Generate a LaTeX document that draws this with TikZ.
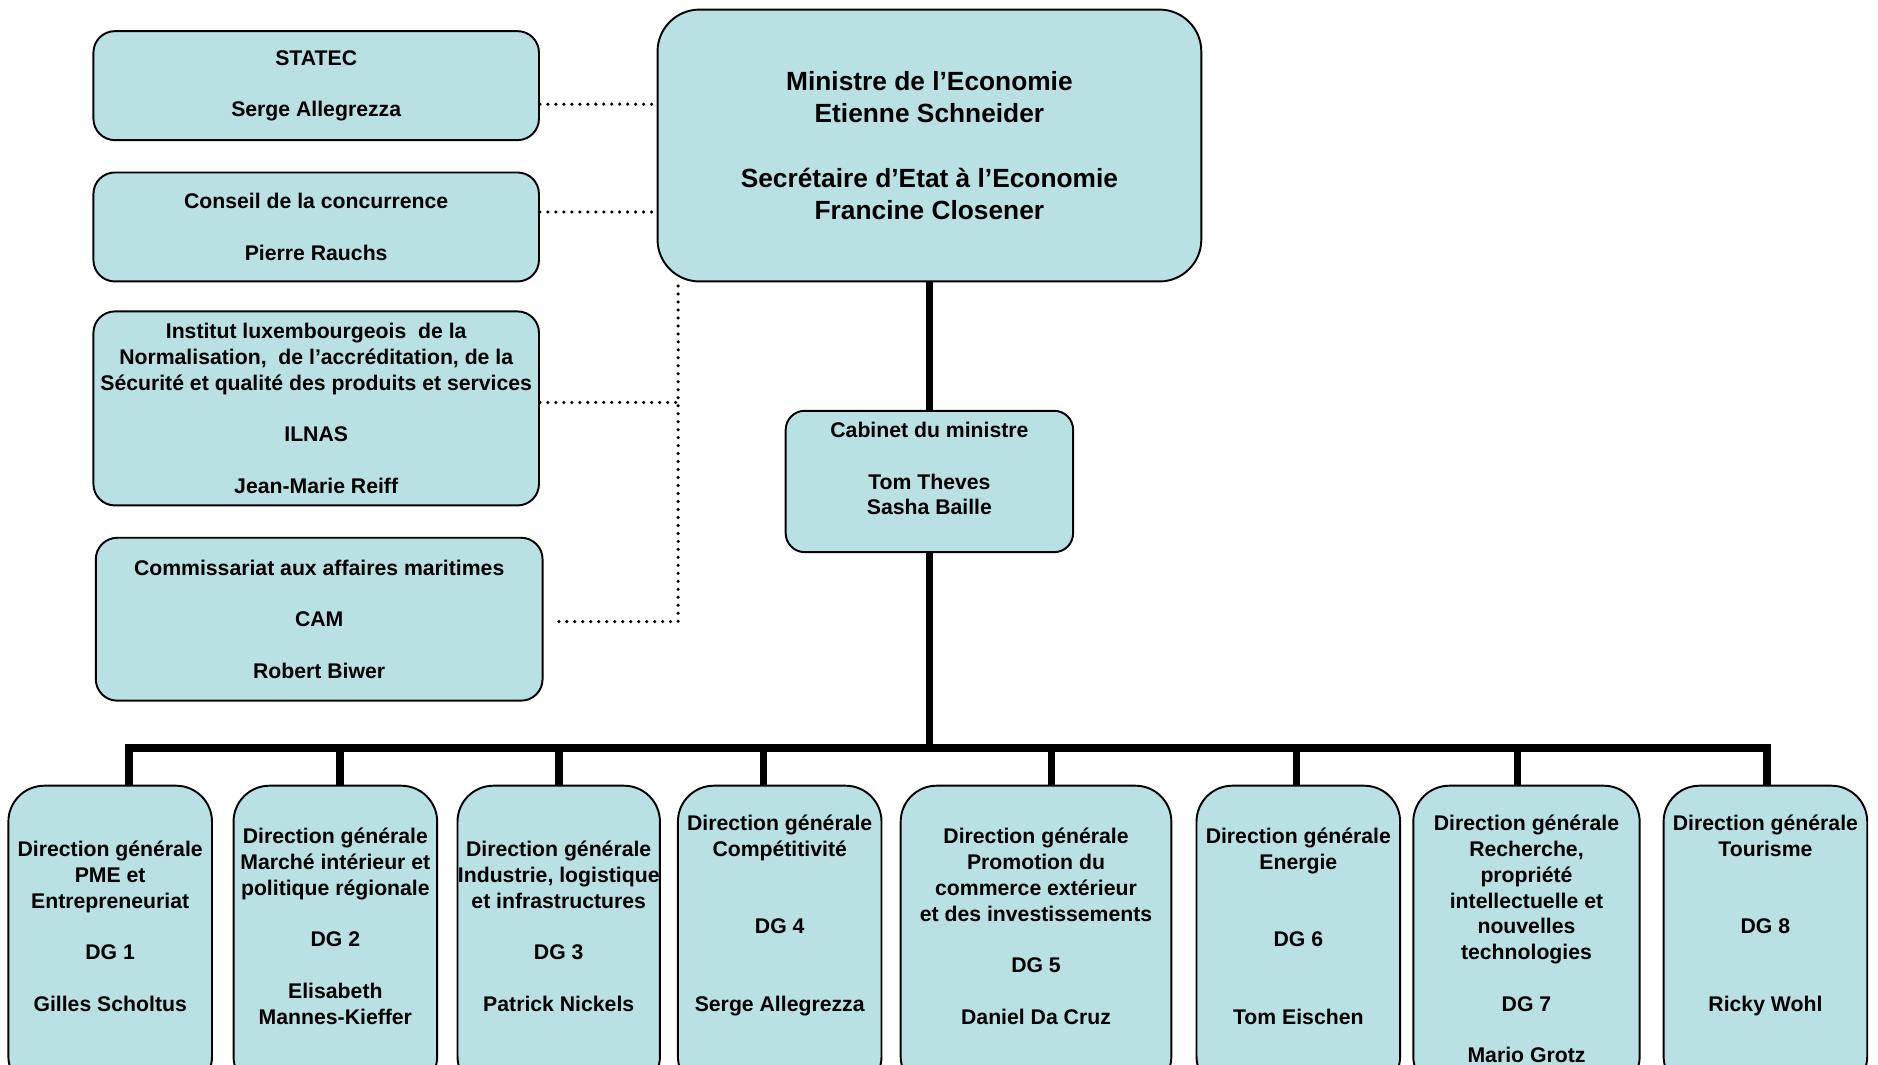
\documentclass[tikz,border=0pt]{standalone}
\usepackage{fontspec}
\setmainfont{Liberation Sans}
\usepackage{tikz}
\usetikzlibrary{positioning,calc,backgrounds}

\definecolor{boxblue}{RGB}{185,224,227}
\newcommand{\px}{0.024cm}
\newcommand{\boxfont}{\bfseries\fontsize{12.1}{14.7}\selectfont}
\newcommand{\bossfont}{\bfseries\fontsize{15}{18.4}\selectfont}

\tikzset{
  orgbox/.style={draw=black, line width=1.1pt, fill=boxblue, align=center, inner sep=0pt, font=\boxfont},
  sidebox/.style={orgbox, rounded corners=0.43cm, minimum width=372*\px},
  dgbox/.style={orgbox, rounded corners=0.72cm, minimum height=256*\px},
  link/.style={line width=2pt, dash pattern=on 0pt off 4.55pt, line cap=round},
  trunk/.style={line width=4.4pt, line cap=rect},
}

\begin{document}
\begin{tikzpicture}[x=\px, y=-\px]
    \useasboundingbox (0,0) rectangle (1568,889);
    \clip (0,0) rectangle (1568,889);

    % Minister and cabinet
    \node[orgbox, rounded corners=0.84cm, minimum width=454*\px, minimum height=227*\px, font=\bossfont] (ministre) at (776,121.5)
        {Ministre de l’Economie\\Etienne Schneider\\ \\Secrétaire d’Etat à l’Economie\\Francine Closener};
    \node[orgbox, rounded corners=0.38cm, minimum width=240*\px, minimum height=118*\px] (cabinet) at (776,402)
        {Cabinet du ministre\\ \\Tom Theves\\Sasha Baille\\ \mbox{}};

    % Attached bodies (left)
    \node[sidebox, minimum height=91*\px] (statec) at (264,71.5) {STATEC\\ \\Serge Allegrezza};
    \node[sidebox, minimum height=91*\px] (conseil) at (264,189.5) {Conseil de la concurrence\\ \\Pierre Rauchs};
    \node[sidebox, minimum height=162*\px] (ilnas) at (264,341)
        {Institut luxembourgeois\ \ de la\\Normalisation,\ \ de l’accréditation, de la\\Sécurité et qualité des produits et services\\ \\ILNAS\\ \\Jean-Marie Reiff};
    \node[sidebox, minimum width=373*\px, minimum height=136*\px] (cam) at (266.5,517)
        {Commissariat aux affaires maritimes\\ \\CAM\\ \\Robert Biwer};

    % Directions generales
    \node[dgbox, minimum width=170*\px] (dg1) at (92,784)
        {Direction générale\\PME et\\Entrepreneuriat\\ \\DG 1\\ \\Gilles Scholtus\\ \mbox{}};
    \node[dgbox, minimum width=170*\px] (dg2) at (280,784)
        {Direction générale\\Marché intérieur et\\politique régionale\\ \\DG 2\\ \\Elisabeth\\Mannes-Kieffer\\ \mbox{}};
    \node[dgbox, minimum width=169*\px] (dg3) at (466.5,784)
        {Direction générale\\Industrie, logistique\\et infrastructures\\ \\DG 3\\ \\Patrick Nickels\\ \mbox{}};
    \node[dgbox, minimum width=170*\px] (dg4) at (651,784)
        {Direction générale\\Compétitivité\\ \\ \\DG 4\\ \\ \\Serge Allegrezza\\ \mbox{}\\ \mbox{}};
    \node[dgbox, minimum width=226*\px] (dg5) at (865,784)
        {Direction générale\\Promotion du\\commerce extérieur\\et des investissements\\ \\DG 5\\ \\Daniel Da Cruz\\ \mbox{}};
    \node[dgbox, minimum width=170*\px] (dg6) at (1084,784)
        {Direction générale\\Energie\\ \\ \\DG 6\\ \\ \\Tom Eischen\\ \mbox{}};
    \node[dgbox, minimum width=189*\px] (dg7) at (1274.5,784)
        {Direction générale\\Recherche,\\propriété\\intellectuelle et\\nouvelles\\technologies\\ \\DG 7\\ \\Mario Grotz};
    \node[dgbox, minimum width=170*\px] (dg8) at (1474,784)
        {Direction générale\\Tourisme\\ \\ \\DG 8\\ \\ \\Ricky Wohl\\ \mbox{}\\ \mbox{}};

    \begin{scope}[on background layer]
        % Dotted links
        \path (statec.east) ++(0,15.5) coordinate (l1);
        \path (conseil.east) ++(0,-12.5) coordinate (l2);
        \path (ilnas.east) ++(0,-5) coordinate (l3);
        \path (cam.east) ++(7,2) coordinate (l4);
        \coordinate (spine) at ([xshift=18*\px, yshift=-3*\px]ministre.south west);
        \draw[link] (l1) -- (l1 -| ministre.west);
        \draw[link] (l2) -- (l2 -| ministre.west);
        \draw[link] (l3) -- (l3 -| spine);
        \draw[link] (spine) -- (spine |- l4) -- (l4);

        % Hierarchy
        \coordinate (bus) at ([yshift=-163*\px]cabinet.south);
        \coordinate (d1) at ([xshift=16*\px]dg1.north);
        \coordinate (d2) at ([xshift=4*\px]dg2.north);
        \coordinate (d3) at (dg3.north);
        \coordinate (d4) at ([xshift=-13.5*\px]dg4.north);
        \coordinate (d5) at ([xshift=13*\px]dg5.north);
        \coordinate (d6) at ([xshift=-1.5*\px]dg6.north);
        \coordinate (d7) at ([xshift=-7.5*\px]dg7.north);
        \coordinate (d8) at ([xshift=1.5*\px]dg8.north);
        \draw[trunk] (ministre.south) -- (cabinet.north);
        \draw[trunk] (cabinet.south) -- (bus);
        \foreach \i in {1,...,8}
            \draw[trunk] (d\i) -- (d\i |- bus);
        \draw[trunk] (d1 |- bus) -- (d8 |- bus);
    \end{scope}
\end{tikzpicture}
\end{document}
